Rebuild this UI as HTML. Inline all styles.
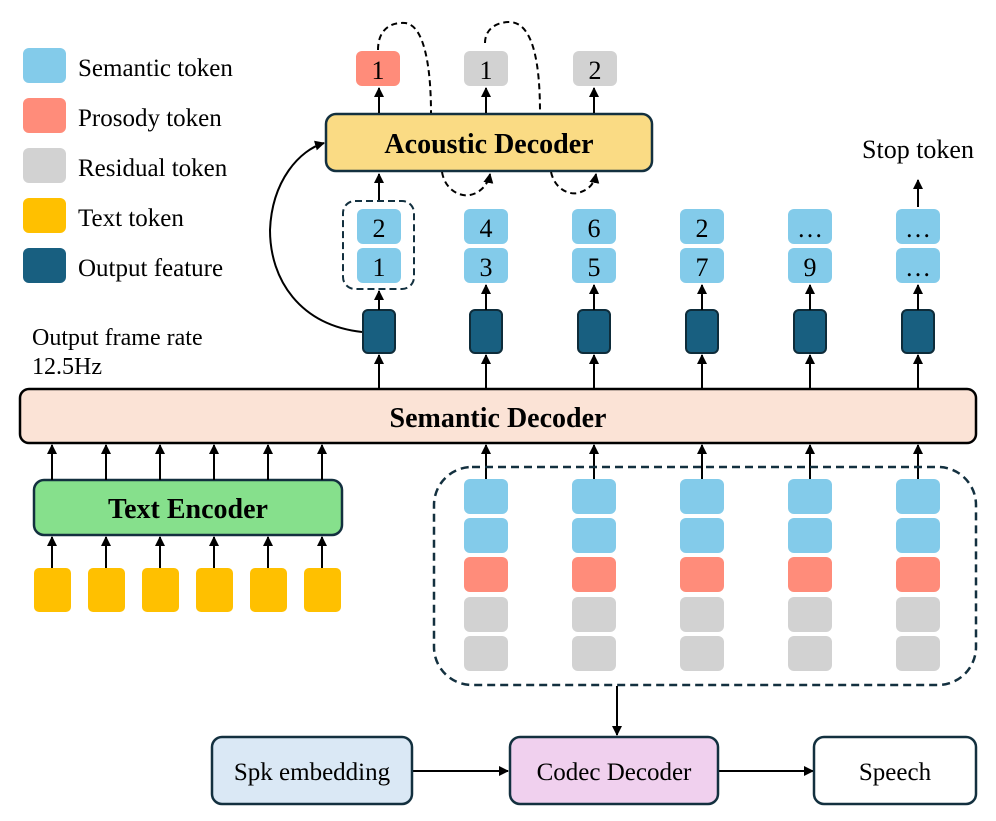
<!DOCTYPE html>
<html><head><meta charset="utf-8"><style>
html,body{margin:0;padding:0;background:#fff}
svg{display:block}
text{font-family:"Liberation Serif",serif;fill:#000}
</style></head><body>
<svg width="996" height="821" viewBox="0 0 996 821" xmlns="http://www.w3.org/2000/svg">
<defs>
<marker id="a" viewBox="0 0 10 10" refX="9" refY="5" markerWidth="5" markerHeight="5" orient="auto"><path d="M0,0 L10,5 L0,10 z" fill="#000"/></marker>
</defs>
<!-- legend -->
<rect x="23" y="48" width="43" height="35" rx="6" fill="#83cbea"/>
<rect x="23" y="98" width="43" height="35" rx="6" fill="#ff8c7a"/>
<rect x="23" y="148" width="43" height="35" rx="6" fill="#d2d2d2"/>
<rect x="23" y="198" width="43" height="35" rx="6" fill="#ffc000"/>
<rect x="23" y="248" width="43" height="35" rx="6" fill="#185f80"/>
<g font-size="25">
<text x="78" y="76">Semantic token</text>
<text x="78" y="126">Prosody token</text>
<text x="78" y="176">Residual token</text>
<text x="78" y="226">Text token</text>
<text x="78" y="276">Output feature</text>
<text x="32" y="345" font-size="24">Output frame rate</text>
<text x="32" y="374" font-size="24">12.5Hz</text>
<text x="918" y="158" text-anchor="middle" font-size="26">Stop token</text>
</g>

<!-- Acoustic decoder -->
<rect x="326" y="114" width="326" height="57" rx="10" fill="#fadb84" stroke="#13303f" stroke-width="2.5"/>
<text x="489" y="153" font-size="28" font-weight="bold" text-anchor="middle">Acoustic Decoder</text>
<rect x="356" y="51" width="44" height="35" rx="6" fill="#ff8c7a"/>
<rect x="464" y="51" width="44" height="35" rx="6" fill="#d2d2d2"/>
<rect x="573" y="51" width="44" height="35" rx="6" fill="#d2d2d2"/>
<g font-size="26" text-anchor="middle">
<text x="378" y="79">1</text><text x="486" y="79">1</text><text x="595" y="79">2</text>
</g>
<g stroke="#000" stroke-width="2" marker-end="url(#a)">
<line x1="379" y1="113" x2="379" y2="88"/>
<line x1="486" y1="113" x2="486" y2="88"/>
<line x1="594" y1="113" x2="594" y2="88"/>
<line x1="379" y1="200" x2="379" y2="174"/>
<line x1="918" y1="207" x2="918" y2="180"/>
</g>
<!-- dashed loops -->
<g fill="none" stroke="#000" stroke-width="2" stroke-dasharray="6,4">
<path d="M378,50 C378,30 390,22 405,23 C425,25 431,70 431,113"/>
<path d="M485,43 C485,30 495,22 510,22 C535,23 540,70 540,113"/>
<path d="M442,172 C445,190 460,197 470,195 C480,193 488,185 490,174" marker-end="url(#a)"/>
<path d="M551,172 C555,190 570,195 578,193 C588,190 594,185 596,174" marker-end="url(#a)"/>
</g>
<!-- curved arrow -->
<path d="M362,332 C300,325 270,280 270,230 C272,180 300,150 324,143" fill="none" stroke="#000" stroke-width="2" marker-end="url(#a)"/>

<!-- semantic tokens top -->
<rect x="343" y="201" width="71" height="88" rx="12" fill="none" stroke="#13303f" stroke-width="2" stroke-dasharray="7,4"/>
<g fill="#83cbea">
<rect x="357" y="209" width="44" height="35" rx="6"/><rect x="357" y="248" width="44" height="35" rx="6"/>
<rect x="464" y="209" width="44" height="35" rx="6"/><rect x="464" y="248" width="44" height="35" rx="6"/>
<rect x="572" y="209" width="44" height="35" rx="6"/><rect x="572" y="248" width="44" height="35" rx="6"/>
<rect x="680" y="209" width="44" height="35" rx="6"/><rect x="680" y="248" width="44" height="35" rx="6"/>
<rect x="788" y="209" width="44" height="35" rx="6"/><rect x="788" y="248" width="44" height="35" rx="6"/>
<rect x="896" y="209" width="44" height="35" rx="6"/><rect x="896" y="248" width="44" height="35" rx="6"/>
</g>
<g font-size="26" text-anchor="middle">
<text x="379" y="237">2</text><text x="379" y="276">1</text>
<text x="486" y="237">4</text><text x="486" y="276">3</text>
<text x="594" y="237">6</text><text x="594" y="276">5</text>
<text x="702" y="237">2</text><text x="702" y="276">7</text>
<text x="810" y="237">…</text><text x="810" y="276">9</text>
<text x="918" y="237">…</text><text x="918" y="276">…</text>
</g>
<!-- output features -->
<g fill="#185f80" stroke="#0e2c3a" stroke-width="2">
<rect x="363" y="310" width="32" height="43" rx="5"/>
<rect x="470" y="310" width="32" height="43" rx="5"/>
<rect x="578" y="310" width="32" height="43" rx="5"/>
<rect x="686" y="310" width="32" height="43" rx="5"/>
<rect x="794" y="310" width="32" height="43" rx="5"/>
<rect x="902" y="310" width="32" height="43" rx="5"/>
</g>
<g stroke="#000" stroke-width="2" marker-end="url(#a)">
<line x1="379" y1="310" x2="379" y2="291"/>
<line x1="486" y1="310" x2="486" y2="285"/>
<line x1="594" y1="310" x2="594" y2="285"/>
<line x1="702" y1="310" x2="702" y2="285"/>
<line x1="810" y1="310" x2="810" y2="285"/>
<line x1="918" y1="310" x2="918" y2="285"/>
<line x1="379" y1="389" x2="379" y2="355"/>
<line x1="486" y1="389" x2="486" y2="355"/>
<line x1="594" y1="389" x2="594" y2="355"/>
<line x1="702" y1="389" x2="702" y2="355"/>
<line x1="810" y1="389" x2="810" y2="355"/>
<line x1="918" y1="389" x2="918" y2="355"/>
</g>

<!-- semantic decoder -->
<rect x="20" y="389" width="956" height="54" rx="9" fill="#fbe3d6" stroke="#000" stroke-width="2.5"/>
<text x="498" y="427" font-size="28" font-weight="bold" text-anchor="middle">Semantic Decoder</text>

<!-- text encoder -->
<rect x="34" y="480" width="308" height="55" rx="10" fill="#86e08c" stroke="#13303f" stroke-width="2.5"/>
<text x="188" y="518" font-size="28" font-weight="bold" text-anchor="middle">Text Encoder</text>
<g fill="#ffc000">
<rect x="34" y="568" width="37" height="44" rx="5"/>
<rect x="88" y="568" width="37" height="44" rx="5"/>
<rect x="142" y="568" width="37" height="44" rx="5"/>
<rect x="196" y="568" width="37" height="44" rx="5"/>
<rect x="250" y="568" width="37" height="44" rx="5"/>
<rect x="304" y="568" width="37" height="44" rx="5"/>
</g>
<g stroke="#000" stroke-width="2" marker-end="url(#a)">
<line x1="52" y1="568" x2="52" y2="537"/><line x1="106" y1="568" x2="106" y2="537"/>
<line x1="160" y1="568" x2="160" y2="537"/><line x1="214" y1="568" x2="214" y2="537"/>
<line x1="268" y1="568" x2="268" y2="537"/><line x1="322" y1="568" x2="322" y2="537"/>
<line x1="52" y1="480" x2="52" y2="445"/><line x1="106" y1="480" x2="106" y2="445"/>
<line x1="160" y1="480" x2="160" y2="445"/><line x1="214" y1="480" x2="214" y2="445"/>
<line x1="268" y1="480" x2="268" y2="445"/><line x1="322" y1="480" x2="322" y2="445"/>
<line x1="486" y1="479" x2="486" y2="445"/><line x1="594" y1="479" x2="594" y2="445"/>
<line x1="702" y1="479" x2="702" y2="445"/><line x1="810" y1="479" x2="810" y2="445"/>
<line x1="918" y1="479" x2="918" y2="445"/>
</g>

<!-- codec token block -->
<rect x="434" y="467" width="542" height="218" rx="38" fill="none" stroke="#13303f" stroke-width="2.5" stroke-dasharray="8,5"/>
<g>
<g fill="#83cbea">
<rect x="464" y="479" width="44" height="35" rx="6"/><rect x="464" y="518" width="44" height="35" rx="6"/>
<rect x="572" y="479" width="44" height="35" rx="6"/><rect x="572" y="518" width="44" height="35" rx="6"/>
<rect x="680" y="479" width="44" height="35" rx="6"/><rect x="680" y="518" width="44" height="35" rx="6"/>
<rect x="788" y="479" width="44" height="35" rx="6"/><rect x="788" y="518" width="44" height="35" rx="6"/>
<rect x="896" y="479" width="44" height="35" rx="6"/><rect x="896" y="518" width="44" height="35" rx="6"/>
</g>
<g fill="#ff8c7a">
<rect x="464" y="557" width="44" height="35" rx="6"/><rect x="572" y="557" width="44" height="35" rx="6"/>
<rect x="680" y="557" width="44" height="35" rx="6"/><rect x="788" y="557" width="44" height="35" rx="6"/>
<rect x="896" y="557" width="44" height="35" rx="6"/>
</g>
<g fill="#d2d2d2">
<rect x="464" y="597" width="44" height="35" rx="6"/><rect x="464" y="636" width="44" height="35" rx="6"/>
<rect x="572" y="597" width="44" height="35" rx="6"/><rect x="572" y="636" width="44" height="35" rx="6"/>
<rect x="680" y="597" width="44" height="35" rx="6"/><rect x="680" y="636" width="44" height="35" rx="6"/>
<rect x="788" y="597" width="44" height="35" rx="6"/><rect x="788" y="636" width="44" height="35" rx="6"/>
<rect x="896" y="597" width="44" height="35" rx="6"/><rect x="896" y="636" width="44" height="35" rx="6"/>
</g>
</g>

<!-- bottom -->
<g stroke="#000" stroke-width="2" marker-end="url(#a)">
<line x1="617" y1="686" x2="617" y2="735"/>
<line x1="413" y1="771" x2="508" y2="771"/>
<line x1="719" y1="771" x2="813" y2="771"/>
</g>
<rect x="212" y="737" width="200" height="67" rx="10" fill="#dae8f5" stroke="#13303f" stroke-width="2.5"/>
<rect x="510" y="737" width="208" height="67" rx="10" fill="#f0d0ee" stroke="#13303f" stroke-width="2.5"/>
<rect x="814" y="737" width="162" height="67" rx="10" fill="#fff" stroke="#13303f" stroke-width="2.5"/>
<g font-size="25" text-anchor="middle">
<text x="312" y="780">Spk embedding</text>
<text x="614" y="780">Codec Decoder</text>
<text x="895" y="780">Speech</text>
</g>
</svg>
</body></html>
